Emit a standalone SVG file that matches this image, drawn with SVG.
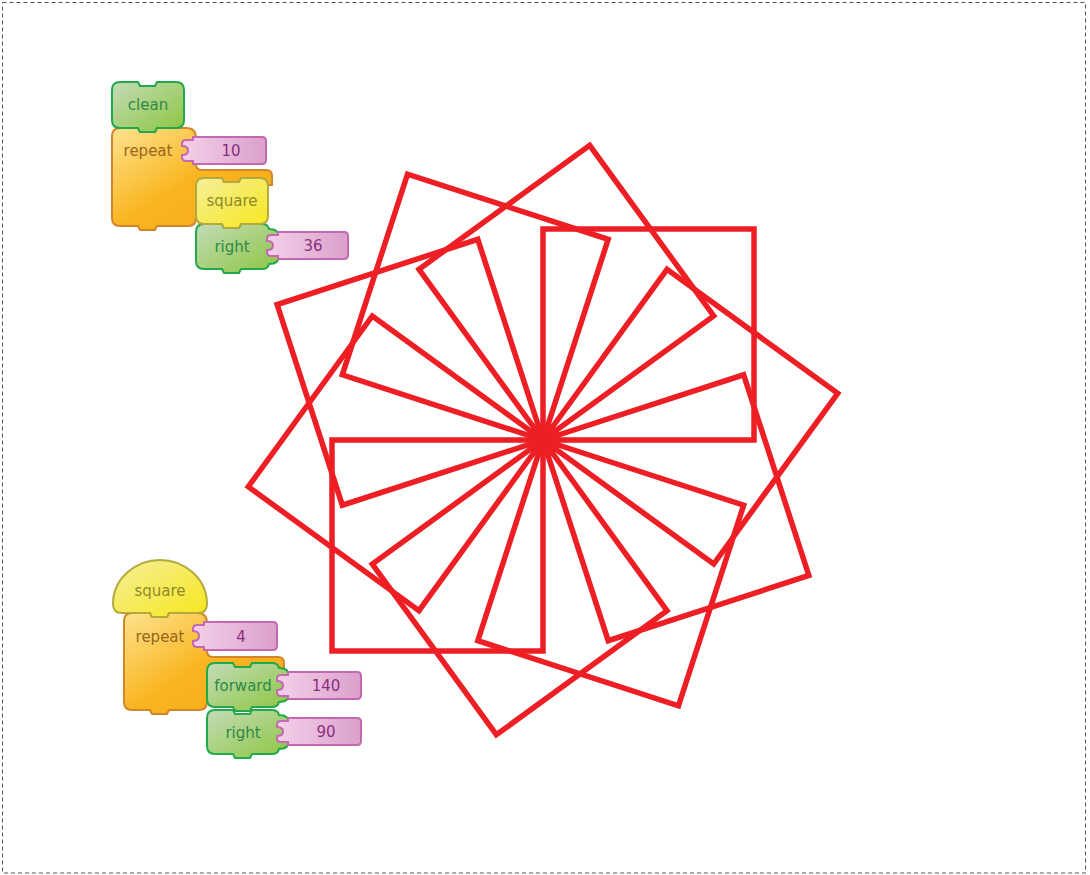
<svg xmlns="http://www.w3.org/2000/svg" width="1090" height="875" viewBox="0 0 1090 875">
<style>
.t{font-family:"DejaVu Sans","Liberation Sans",sans-serif;font-size:15px;text-anchor:middle}
.gr{fill:url(#gGreen);stroke:#22a94b;stroke-width:2}
.or{fill:url(#gOrange);stroke:#d2862b;stroke-width:2}
.ye{fill:url(#gYellow);stroke:#b3a93d;stroke-width:2}
.pk{fill:url(#gPink);stroke:#c468b1;stroke-width:2}
.tg{fill:#2d8a46}.to{fill:#98661c}.ty{fill:#8f892b}.tp{fill:#8a2f7e}
.ink{fill:none;stroke:#ed1f24;stroke-width:5.5;stroke-linejoin:miter}
</style>
<defs>
<linearGradient id="gGreen" x1="0" y1="0" x2="1" y2="1"><stop offset="0" stop-color="#c4dbb8"/><stop offset="1" stop-color="#8cc63f"/></linearGradient>
<linearGradient id="gOrange" x1="0" y1="0" x2="1" y2="1"><stop offset="0" stop-color="#fde38f"/><stop offset="0.5" stop-color="#f9b51f"/><stop offset="1" stop-color="#f7a81b"/></linearGradient>
<linearGradient id="gYellow" x1="0" y1="0" x2="1" y2="1"><stop offset="0" stop-color="#f4ef9a"/><stop offset="1" stop-color="#f8e71c"/></linearGradient>
<linearGradient id="gPink" x1="0" y1="0" x2="1" y2="0"><stop offset="0" stop-color="#f3d0e9"/><stop offset="1" stop-color="#dba0cb"/></linearGradient>
</defs>
<rect x="2.5" y="2.5" width="1083" height="870.5" fill="#fff" stroke="#555" stroke-width="1" stroke-dasharray="4 3"/>

<g id="turtle-drawing">
<polygon class="ink" points="543,440 543,229 754,229 754,440"/>
<polygon class="ink" points="543,440 667.02,269.30 837.72,393.32 713.70,564.02"/>
<polygon class="ink" points="543,440 743.67,374.80 808.87,575.47 608.20,640.67"/>
<polygon class="ink" points="543,440 743.67,505.20 678.47,705.87 477.80,640.67"/>
<polygon class="ink" points="543,440 667.02,610.70 496.32,734.72 372.30,564.02"/>
<polygon class="ink" points="543,440 543,651 332,651 332,440"/>
<polygon class="ink" points="543,440 418.98,610.70 248.28,486.68 372.30,315.98"/>
<polygon class="ink" points="543,440 342.33,505.20 277.13,304.53 477.80,239.33"/>
<polygon class="ink" points="543,440 342.33,374.80 407.53,174.13 608.20,239.33"/>
<polygon class="ink" points="543,440 418.98,269.30 589.68,145.28 713.70,315.98"/>
<circle cx="544" cy="440.5" r="16" fill="#ed1f24"/>
</g>

<g id="connectors"/>

<g id="repeat-10">
<path class="or" d="M120,128 H138 L140,132 H155 L157,128 H186 Q196,128 196,138 V164 Q196,170 202,170 H266 Q272,170 272,176 V185 H196 V218 Q196,226 188,226 H157 L155,230 H140 L138,226 H120 Q112,226 112,218 V136 Q112,128 120,128 Z"/>
<text class="t to" x="148" y="156">repeat</text>
</g>
<g id="num-10">
<path class="pk" d="M186,140 H193 V137 H262 Q266,137 266,141 V160 Q266,164 262,164 H193 V161 H186 Q182,161 182,157 V155 Q188,155 188,150.5 Q188,146 182,146 V144 Q182,140 186,140 Z"/>
<text class="t tp" x="231" y="156">10</text>
</g>
<g id="right-36">
<path class="gr" d="M204,224 H222 L224,228 H239 L241,224 H262 Q268,224 269,229 Q279,229 279,237 V256 Q279,264 269,264 Q268,269 262,269 H241 L239,273 H224 L222,269 H204 Q196,269 196,261 V232 Q196,224 204,224 Z"/>
<text class="t tg" x="232" y="251.5">right</text>
</g>
<g id="num-36">
<path class="pk" d="M271,235 H278 V232 H344 Q348,232 348,236 V255 Q348,259 344,259 H278 V256 H271 Q267,256 267,252 V250 Q273,250 273,245.5 Q273,241 267,241 V239 Q267,235 271,235 Z"/>
<text class="t tp" x="313" y="251">36</text>
</g>
<g id="square-call">
<path class="ye" d="M204,178 H222 L224,182 H239 L241,178 H260 Q268,178 268,186 V216 Q268,224 260,224 H241 L239,228 H224 L222,224 H204 Q196,224 196,216 V186 Q196,178 204,178 Z"/>
<text class="t ty" x="232" y="206">square</text>
</g>
<g id="clean">
<path class="gr" d="M120,82 H138 L140,86 H155 L157,82 H176 Q184,82 184,90 V120 Q184,128 176,128 H157 L155,132 H140 L138,128 H120 Q112,128 112,120 V90 Q112,82 120,82 Z"/>
<text class="t tg" x="148" y="110">clean</text>
</g>

<g id="repeat-4">
<path class="or" d="M132,613 H150 L152,617 H167 L169,613 H197 Q207,613 207,623 V651 Q207,657 213,657 H278 Q284,657 284,663 V670 H207 V702 Q207,710 199,710 H169 L167,714 H152 L150,710 H132 Q124,710 124,702 V621 Q124,613 132,613 Z"/>
<text class="t to" x="160" y="642">repeat</text>
</g>
<g id="num-4">
<path class="pk" d="M197,625 H204 V622 H273 Q277,622 277,626 V646 Q277,650 273,650 H204 V647 H197 Q193,647 193,643 V641 Q199,641 199,636 Q199,631 193,631 V629 Q193,625 197,625 Z"/>
<text class="t tp" x="241" y="641.5">4</text>
</g>
<g id="right-90">
<path class="gr" d="M215,710 H233 L235,714 H250 L252,710 H272 Q278,710 279,715 Q289,715 289,723 V741 Q289,749 279,749 Q278,754 272,754 H252 L250,758 H235 L233,754 H215 Q207,754 207,746 V718 Q207,710 215,710 Z"/>
<text class="t tg" x="243" y="737.5">right</text>
</g>
<g id="num-90">
<path class="pk" d="M281,721 H288 V718 H357 Q361,718 361,722 V741 Q361,745 357,745 H288 V742 H281 Q277,742 277,738 V736 Q283,736 283,731.5 Q283,727 277,727 V725 Q277,721 281,721 Z"/>
<text class="t tp" x="326" y="737">90</text>
</g>
<g id="forward-140">
<path class="gr" d="M215,663 H233 L235,667 H250 L252,663 H272 Q278,663 279,668 Q289,668 289,676 V694 Q289,702 279,702 Q278,707 272,707 H252 L250,711 H235 L233,707 H215 Q207,707 207,699 V671 Q207,663 215,663 Z"/>
<text class="t tg" x="243" y="691">forward</text>
</g>
<g id="num-140">
<path class="pk" d="M281,675 H288 V672 H357 Q361,672 361,676 V695 Q361,699 357,699 H288 V696 H281 Q277,696 277,692 V690 Q283,690 283,685.5 Q283,681 277,681 V679 Q277,675 281,675 Z"/>
<text class="t tp" x="326" y="691">140</text>
</g>
<g id="square-def">
<path class="ye" d="M113,604 C113,578 136,560 160,560 C184,560 207,578 207,604 Q207,613 198,613 H169 L167,617 H152 L150,613 H122 Q113,613 113,604 Z"/>
<text class="t ty" x="160" y="596">square</text>
</g>
</svg>
